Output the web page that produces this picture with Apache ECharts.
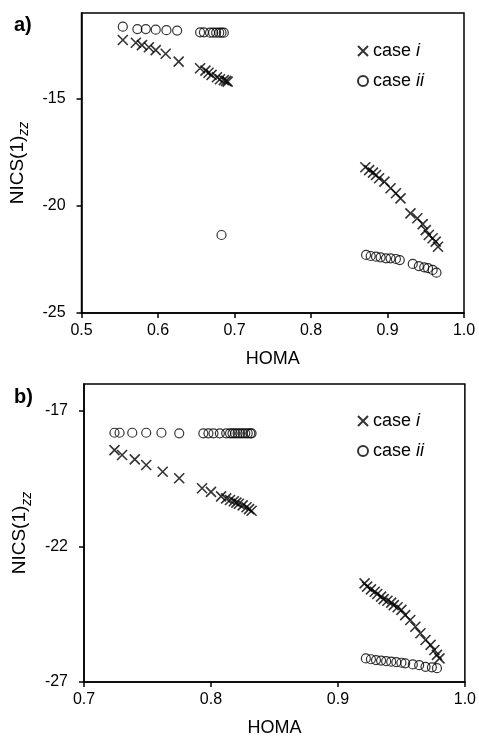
<!DOCTYPE html>
<html>
<head>
<meta charset="utf-8">
<script src="https://cdn.jsdelivr.net/npm/echarts@6/dist/echarts.min.js"></script>
<style>
  html, body { margin: 0; padding: 0; background: #fff; }
  #chart { width: 479px; height: 740px; }
</style>
</head>
<body>
<div id="chart"></div>
<script>
// panel a) case i (crosses)
var aHomaI = [0.554, 0.571, 0.579, 0.588, 0.597, 0.610, 0.627, 0.655, 0.662, 0.666, 0.670, 0.677, 0.681, 0.686, 0.689, 0.691,
  0.871, 0.876, 0.881, 0.885, 0.889, 0.896, 0.904, 0.911, 0.917, 0.930, 0.939, 0.946, 0.950, 0.954, 0.959, 0.963, 0.966]
var aNicsI = [-12.26, -12.39, -12.5, -12.6, -12.73, -12.9, -13.27, -13.58, -13.69, -13.79, -13.89, -14.0, -14.09, -14.13, -14.17, -14.2,
  -18.2, -18.33, -18.45, -18.56, -18.71, -18.87, -19.18, -19.41, -19.65, -20.35, -20.58, -20.85, -21.13, -21.36, -21.51, -21.67, -21.91]
// panel a) case ii (circles)
var aHomaII = [0.554, 0.573, 0.584, 0.597, 0.611, 0.625, 0.655, 0.660, 0.668, 0.672, 0.676, 0.680, 0.683, 0.686, 0.683,
  0.872, 0.878, 0.885, 0.891, 0.898, 0.904, 0.911, 0.916, 0.933, 0.941, 0.948, 0.953, 0.959, 0.964]
var aNicsII = [-11.64, -11.75, -11.75, -11.78, -11.8, -11.82, -11.9, -11.9, -11.92, -11.92, -11.92, -11.92, -11.92, -11.92, -21.36,
  -22.29, -22.34, -22.37, -22.4, -22.45, -22.45, -22.48, -22.53, -22.71, -22.81, -22.87, -22.91, -22.99, -23.12]

// panel b) case i (crosses)
var bHomaI = [0.724, 0.730, 0.740, 0.749, 0.762, 0.775, 0.793, 0.800, 0.808, 0.812, 0.815, 0.818, 0.820, 0.822, 0.825, 0.828, 0.830, 0.832,
  0.921, 0.923, 0.926, 0.929, 0.931, 0.934, 0.936, 0.939, 0.942, 0.944, 0.947, 0.950, 0.953, 0.957, 0.961, 0.965, 0.969, 0.973, 0.976, 0.978, 0.980]
var bNicsI = [-18.44, -18.62, -18.78, -18.99, -19.24, -19.48, -19.85, -19.98, -20.15, -20.22, -20.28, -20.33, -20.38, -20.42, -20.48, -20.55, -20.62, -20.68,
  -23.36, -23.48, -23.58, -23.67, -23.75, -23.85, -23.94, -24.0, -24.07, -24.16, -24.24, -24.34, -24.53, -24.71, -24.96, -25.2, -25.45, -25.63, -25.82, -26.0, -26.13]
// panel b) case ii (circles)
var bHomaII = [0.724, 0.728, 0.738, 0.749, 0.761, 0.775, 0.794, 0.798, 0.802, 0.807, 0.812, 0.815, 0.817, 0.819, 0.821, 0.823, 0.825, 0.827, 0.829, 0.831, 0.832,
  0.922, 0.926, 0.930, 0.934, 0.938, 0.942, 0.946, 0.950, 0.953, 0.959, 0.964, 0.969, 0.974, 0.978]
var bNicsII = [-17.8, -17.8, -17.8, -17.8, -17.8, -17.82, -17.82, -17.82, -17.82, -17.82, -17.82, -17.82, -17.82, -17.82, -17.82, -17.82, -17.82, -17.82, -17.82, -17.82, -17.82,
  -26.13, -26.16, -26.19, -26.21, -26.23, -26.25, -26.27, -26.29, -26.31, -26.35, -26.38, -26.44, -26.46, -26.49]

// axes
var xTicksA = [0.5, 0.6, 0.7, 0.8, 0.9, 1.0]
var yTicksA = [-25, -20, -15]
var xTicksB = [0.7, 0.8, 0.9, 1.0]
var yTicksB = [-27, -22, -17]

var font = 'Liberation Sans, Arial, sans-serif'
var crossPath = 'path://M0,0L10,10M10,0L0,10'

var zip = function zip(xs, ys) {
  var out = []
  for (var i = 0; i < xs.length; i++) out.push([xs[i], ys[i]])
  return out
}

var xAxisCfg = function xAxisCfg(idx, min, max, ticks) {
  return {
    type: 'value', gridIndex: idx, min: min, max: max,
    name: 'HOMA', nameLocation: 'middle', nameGap: 37,
    nameTextStyle: { fontFamily: font, fontSize: 18, color: '#000' },
    axisLine: { onZero: false, lineStyle: { color: '#000', width: 1.5 } },
    axisTick: { customValues: ticks, length: 5, lineStyle: { color: '#000', width: 1.5 } },
    axisLabel: { customValues: ticks, margin: 10, fontFamily: font, fontSize: 16, color: '#000',
      formatter: function (v) { return v.toFixed(1) } },
    splitLine: { show: false }
  }
}

var yAxisCfg = function yAxisCfg(idx, min, max, ticks, gap) {
  return {
    type: 'value', gridIndex: idx, min: min, max: max,
    name: 'NICS(1){s|zz}', nameLocation: 'middle', nameGap: gap, nameRotate: 90,
    nameTextStyle: { fontFamily: font, fontSize: 19, color: '#000',
      rich: { s: { fontFamily: font, fontSize: 14, fontStyle: 'italic', color: '#000', verticalAlign: 'bottom', lineHeight: 28 } } },
    axisLine: { onZero: false, lineStyle: { color: '#000', width: 1.5 } },
    axisTick: { customValues: ticks, length: 5, lineStyle: { color: '#000', width: 1.5 } },
    axisLabel: { customValues: ticks, margin: 16, fontFamily: font, fontSize: 16, color: '#000' },
    splitLine: { show: false }
  }
}

var crossSeries = function crossSeries(name, idx, data) {
  return {
    name: name, type: 'scatter', xAxisIndex: idx, yAxisIndex: idx, data: data,
    symbol: crossPath, symbolSize: 10,
    itemStyle: { color: 'transparent', borderColor: '#000', borderWidth: 1.6 },
    emphasis: { disabled: true }
  }
}
var circleSeries = function circleSeries(name, idx, data) {
  return {
    name: name, type: 'scatter', xAxisIndex: idx, yAxisIndex: idx, data: data,
    symbol: 'circle', symbolSize: 9,
    itemStyle: { color: 'transparent', borderColor: '#000', borderWidth: 1.2 },
    emphasis: { disabled: true }
  }
}

var legendCfg = function legendCfg(names, top) {
  return {
    data: names, orient: 'vertical', left: 352, top: top, itemGap: 12,
    itemWidth: 10, itemHeight: 10,
    textStyle: { fontFamily: font, fontSize: 18, color: '#000',
      rich: { it: { fontFamily: font, fontSize: 18, fontStyle: 'italic', color: '#000' } } },
    formatter: function (n) { return 'case {it|' + (/ii$/.test(n) ? 'ii' : 'i') + '}' }
  }
}

var option = {
  animation: false,
  backgroundColor: '#fff',
  title: [
    { text: 'a)', left: 9, top: 10, textStyle: { fontFamily: font, fontSize: 20, fontWeight: 'bold', color: '#000' } },
    { text: 'b)', left: 9, top: 382, textStyle: { fontFamily: font, fontSize: 20, fontWeight: 'bold', color: '#000' } }
  ],
  grid: [
    { left: 79, top: 13, width: 385, height: 300, show: true, borderColor: '#000', borderWidth: 1.5 },
    { left: 84, top: 384, width: 382, height: 298, show: true, borderColor: '#000', borderWidth: 1.5 }
  ],
  xAxis: [xAxisCfg(0, 0.5, 1.0, xTicksA), xAxisCfg(1, 0.7, 1.0, xTicksB)],
  yAxis: [yAxisCfg(0, -25, -11, yTicksA, 34), yAxisCfg(1, -27, -16, yTicksB, 38)],
  legend: [legendCfg(['a case i', 'a case ii'], 37), legendCfg(['b case i', 'b case ii'], 407)],
  series: [
    crossSeries('a case i', 0, zip(aHomaI, aNicsI)),
    circleSeries('a case ii', 0, zip(aHomaII, aNicsII)),
    crossSeries('b case i', 1, zip(bHomaI, bNicsI)),
    circleSeries('b case ii', 1, zip(bHomaII, bNicsII))
  ]
}

var myChart = echarts.init(document.getElementById('chart'))
myChart.setOption(option)
</script>
</body>
</html>
